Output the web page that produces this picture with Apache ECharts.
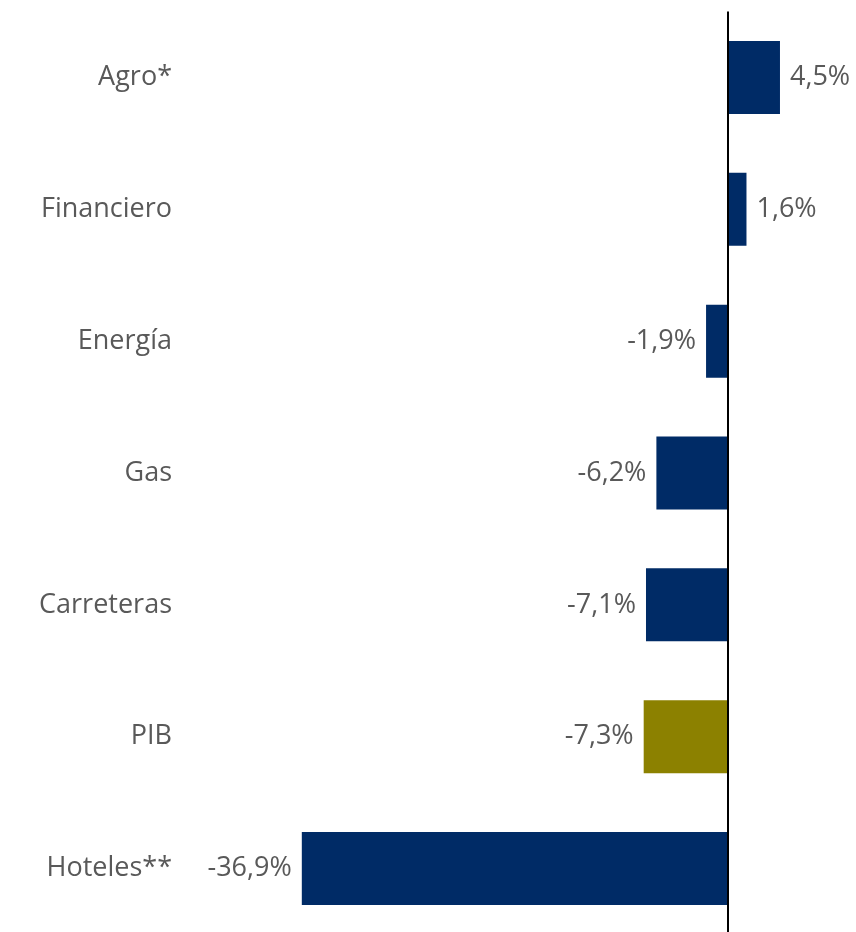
<!DOCTYPE html>
<html>
<head>
<meta charset="utf-8">
<script src="https://cdn.jsdelivr.net/npm/echarts@6/dist/echarts.min.js"></script>
<style>html,body{margin:0;padding:0;background:#fff}#c{width:856px;height:932px}</style>
</head>
<body>
<div id="c"></div>
<script>
var categories = ['Agro*', 'Financiero', 'Energía', 'Gas', 'Carreteras', 'PIB', 'Hoteles**'];
var values = [4.5, 1.6, -1.9, -6.2, -7.1, -7.3, -36.9];
var barColors = ['#002B66', '#002B66', '#002B66', '#002B66', '#002B66', '#8C8100', '#002B66'];

var chart = echarts.init(document.getElementById('c'));
var font = '"Open Sans", sans-serif';
chart.setOption({
  animation: false,
  grid: { left: 266, right: 12.5, top: 11.5, height: 923, outerBoundsMode: 'none', containLabel: false },
  xAxis: {
    type: 'value', min: -40, max: 10, interval: 10,
    show: false
  },
  yAxis: {
    type: 'category', data: categories, inverse: true,
    axisLine: { show: false }, axisTick: { show: false },
    axisLabel: { margin: 94, fontSize: 27, color: '#595959', fontFamily: font, padding: [6, 0, 0, 0] }
  },
  series: [{
    type: 'bar',
    barWidth: 73,
    data: values.map(function (v, i) {
      return {
        value: v,
        itemStyle: { color: barColors[i] },
        label: { position: v >= 0 ? 'right' : 'left' }
      };
    }),
    label: {
      show: true, distance: 10, fontSize: 27, color: '#595959', fontFamily: font,
      padding: [5, 0, 0, 0],
      formatter: function (p) { return String(p.value).replace('.', ',') + '%'; }
    },
    markLine: {
      silent: true, symbol: 'none', label: { show: false },
      lineStyle: { color: '#000', width: 2, type: 'solid' },
      data: [{ xAxis: 0 }]
    }
  }]
});
</script>
</body>
</html>
